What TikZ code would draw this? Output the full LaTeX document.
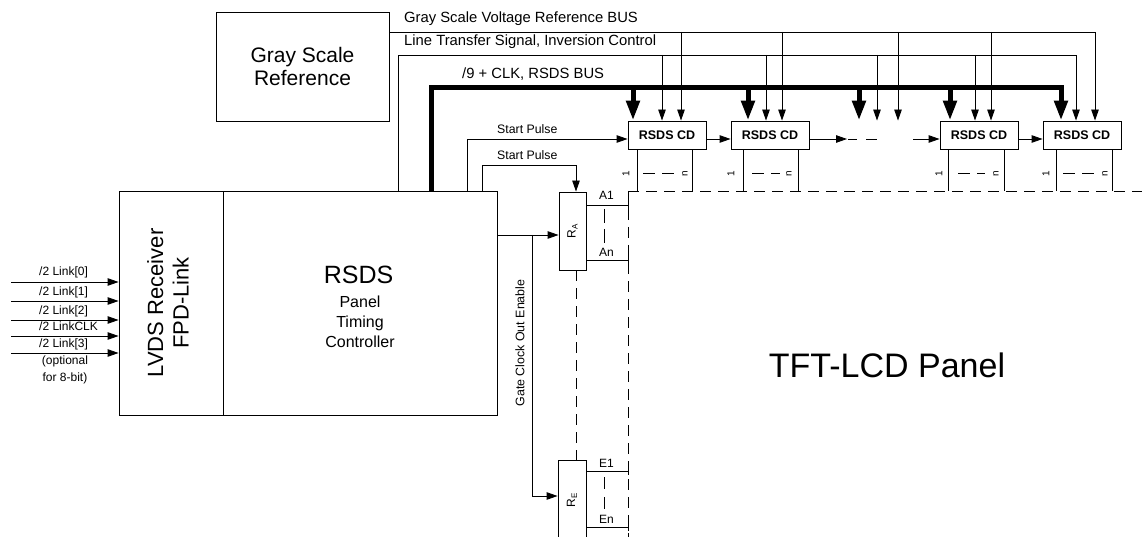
\documentclass[tikz,border=0pt]{standalone}
\usepackage{fontspec}
\setmainfont{Liberation Sans}
\usetikzlibrary{arrows.meta}
\newcommand{\fs}[1]{\fontsize{#1}{#1}\selectfont}
\begin{document}
\begin{tikzpicture}[x=1pt,y=-1pt,
  box/.style={draw, line width=0.9pt, inner sep=0pt, anchor=center},
  ln/.style={line width=0.9pt},
  arr/.style={line width=0.9pt, -{Triangle[length=11pt,width=7.5pt]}},
  busarr/.style={line width=5pt, -{Triangle[length=20pt,width=13pt]}},
  dsh/.style={line width=0.9pt, dash pattern=on 11pt off 7pt},
  txt/.style={inner sep=0pt, font=\fs{12}},
  lbl/.style={inner sep=0pt, font=\fs{14.8}, anchor=base west},
  cd/.style={box, minimum width=78pt, minimum height=28pt, font=\bfseries\fs{12.5}},
  idx/.style={inner sep=0pt, rotate=90, font=\fs{10}}]
\useasboundingbox (0,0) rectangle (1142,537);
\clip (0,0) rectangle (1142,537);
\fill[white] (0,0) rectangle (1142,537);

% main boxes
\node[box, minimum width=173pt, minimum height=109pt, align=center, font=\fontsize{21}{23}\selectfont] (gsr) at (302.5,66.5) {Gray Scale\\Reference};
\node[box, minimum width=104pt, minimum height=224pt] (lvds) at (171,303) {};
\node[box, minimum width=274pt, minimum height=224pt] (tcon) at (360,303) {};
\node[inner sep=0pt, rotate=90, align=center, font=\fontsize{22}{25.5}\selectfont] (lvdst) at (168,303) {LVDS Receiver\\FPD-Link};
\node[inner sep=0pt, anchor=base, font=\fs{25}] (t1) at (358.5,283) {RSDS};
\node[inner sep=0pt, anchor=base, font=\fs{16}] (t2) at (360,307) {Panel};
\node[inner sep=0pt, anchor=base, font=\fs{16}] (t3) at (360,327) {Timing};
\node[inner sep=0pt, anchor=base, font=\fs{16}] (t4) at (360,347) {Controller};

% row drivers
\node[box, minimum width=27pt, minimum height=78pt, font=\fs{12}] (ra) at (572.5,231) {\rotatebox{90}{R\textsubscript{A}}};
\node[box, minimum width=28pt, minimum height=80pt, font=\fs{12}] (re) at (572,500) {\rotatebox{90}{R\textsubscript{E}}};

% column drivers
\node[cd] (cd1) at (667,135) {RSDS CD};
\node[cd] (cd2) at (770,135) {RSDS CD};
\node[cd] (cd3) at (979,135) {RSDS CD};
\node[cd] (cd4) at (1082,135) {RSDS CD};

% bus labels
\node[lbl] (gsvl) at (404,23) {Gray Scale Voltage Reference BUS};
\node[lbl] (ltl) at (404,46) {Line Transfer Signal, Inversion Control};
\node[lbl] (busl) at (462,79) {/9 + CLK, RSDS BUS};

% Gray scale voltage reference bus
\coordinate (gsR) at (1095,32);
\draw[arr] (gsr.east |- gsR) -- (gsR) -- (gsR |- cd4.north);
\draw[arr] (681,32) -- (681,0 |- cd1.north);
\draw[arr] (782,32) -- (782,0 |- cd2.north);
\draw[arr] (898,32) -- (898,0 |- cd2.north);
\draw[arr] (991,32) -- (991,0 |- cd3.north);

% line transfer
\coordinate (ltR) at (1076,55);
\draw[arr] (398,0 |- tcon.north) -- (398,55) -- (ltR) -- (ltR |- cd4.north);
\draw[arr] (662,55) -- (662,0 |- cd1.north);
\draw[arr] (766,55) -- (766,0 |- cd2.north);
\draw[arr] (877,55) -- (877,0 |- cd2.north);
\draw[arr] (975,55) -- (975,0 |- cd3.north);

% RSDS bus
\coordinate (busL) at (431,88);
\coordinate (busR) at (1061,88);
\draw[busarr] (busL |- tcon.north) -- (busL) -- (busR) -- (busR |- cd4.north);
\draw[busarr] (633,88) -- (633,0 |- cd1.north);
\draw[busarr] (748,88) -- (748,0 |- cd2.north);
\draw[busarr] (859,88) -- (859,0 |- cd2.north);
\draw[busarr] (950,88) -- (950,0 |- cd3.north);

% start pulses and chain
\coordinate (gapL) at (847,139);
\coordinate (gapR) at (913,139);
\draw[arr] (467,0 |- tcon.north) |- (cd1.west |- gapL);
\node[txt, anchor=base west, font=\fs{12.3}] (sp1) at (497,134) {Start Pulse};
\coordinate (sp2c) at (576,165);
\draw[arr] (482,0 |- tcon.north) |- (sp2c) -- (sp2c |- ra.north);
\node[txt, anchor=base west, font=\fs{12.3}] (sp2) at (497,160) {Start Pulse};
\draw[arr] (cd1.east |- gapL) -- (cd2.west |- gapL);
\draw[arr] (cd2.east |- gapL) -- (gapL);
\draw[ln] (848,139) -- (857,139) (866,139) -- (877,139);
\draw[arr] (gapR) -- (cd3.west |- gapR);
\draw[arr] (cd3.east |- gapR) -- (cd4.west |- gapR);

% panel outline
\coordinate (ptop) at (628,191);
\draw[dsh] (ptop) -- (1142,191);
\draw[dsh] (ptop) -- (628,537);

% column driver outputs
\foreach \a/\b/\n in {637/692/cd1, 743/798/cd2, 948/1004/cd3, 1056/1112/cd4}{
  \draw[ln] (\a,0 |- \n.south) -- (\a,0 |- ptop);
  \draw[ln] (\b,0 |- \n.south) -- (\b,0 |- ptop);
}
\foreach \p/\q/\r/\s in {626/643/674/685, 731/752/780/789, 939/958/985/996, 1046/1063/1098/1105}{
  \node[idx] at (\p,174) {1};
  \node[idx] at (\s,174) {n};
  \draw[ln, dash pattern=on 12pt off 7pt] (\q,173) -- (\r,173);
}

% RA outputs
\draw[ln] (ra.east |- 0,205) -- (628,205);
\draw[ln] (ra.east |- 0,260) -- (628,260);
\draw[ln] (628,201) -- (628,209) (628,256) -- (628,264);
\node[txt, anchor=base west] (a1) at (599,200) {A1};
\node[txt, anchor=base west] (an) at (599,256) {An};
\draw[ln, dash pattern=on 14pt off 6pt] (604,209) -- (604,248);

% RE outputs
\draw[ln] (re.east |- 0,471) -- (628,471);
\draw[ln] (re.east |- 0,527) -- (628,527);
\draw[ln] (628,467) -- (628,475) (628,523) -- (628,531);
\node[txt, anchor=base west] (e1) at (599,467) {E1};
\node[txt, anchor=base west] (en) at (599,523) {En};
\draw[ln, dash pattern=on 12pt off 8pt] (604,477) -- (604,509);

% RA / RE links
\draw[dsh] (576,0 |- ra.south) -- (576,0 |- re.north);
\draw[arr] (tcon.east |- 0,235) -- (ra.west |- 0,235);
\coordinate (gc) at (532,235);
\draw[arr] (gc) |- (re.west |- 0,496);
\node[inner sep=0pt, rotate=90, font=\fs{12.4}] (gcl) at (520,343) {Gate Clock Out Enable};

% inputs
\foreach \y/\t [count=\i] in {282/{/2 Link[0]}, 301/{/2 Link[1]}, 320/{/2 Link[2]}, 336/{/2 LinkCLK}, 353/{/2 Link[3]}}{
  \coordinate (in\i) at (11,\y);
  \draw[arr] (in\i) -- (lvds.west |- in\i);
  \node[txt, anchor=base west] (inl\i) at (39,\y-6) {\t};
}
\node[txt] (opt1) at (65,361) {(optional};
\node[txt] (opt2) at (65,378) {for 8-bit)};

% panel label
\node[inner sep=0pt, font=\fs{34}] (tft) at (887,365) {TFT-LCD Panel};
\end{tikzpicture}
\end{document}
